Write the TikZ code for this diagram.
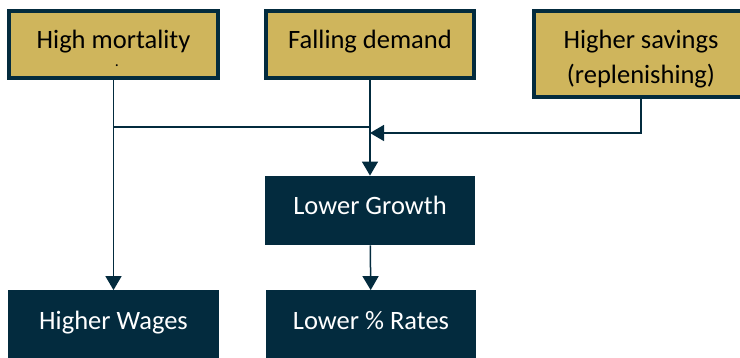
\documentclass[tikz,border=0pt]{standalone}
\usepackage{fontspec}
\setmainfont{Carlito}
\usetikzlibrary{arrows.meta,calc}

\definecolor{gold}{RGB}{207,181,92}
\definecolor{navy}{RGB}{3,43,62}

\begin{document}
\begin{tikzpicture}[x=50pt, y=50pt,
		font=\fontsize{13.25}{17.5}\selectfont,
		cause/.style={draw=navy, line width=2pt, fill=gold, text=black, align=center,
			minimum width=104pt, minimum height=33.5pt, inner sep=0pt},
		effect/.style={fill=navy, text=white, align=center, text height=9pt, text depth=4.5pt,
			minimum width=105pt, minimum height=34.5pt, inner sep=0pt},
		wire/.style={navy, line width=0.75pt},
		link/.style={wire, -{Triangle[width=8pt, length=7pt]}}]
				\clip (0, 0) rectangle (7.40, 3.58);

				\node (Mortality) [cause, text height=9pt, text depth=5pt] at (1.135, 3.135) {High mortality};
				\node (MortalityDot) at (1.17, 2.92) {\fontsize{8}{8}\selectfont .};
				\node (Demand) [cause, text height=9pt, text depth=5pt] at (3.70, 3.135) {Falling demand};
				\node (Savings) [cause, minimum width=107pt, minimum height=43pt] at (6.41, 3.04) {};
				\node (SavingsText) [align=center] at (6.41, 2.99) {Higher savings\\(replenishing)};

				\node (Growth) [effect] at (3.70, 1.475) {Lower Growth};
				\node (Wages) [effect] at (1.135, 0.33) {Higher Wages};
				\node (Rates) [effect] at (3.71, 0.33) {Lower \% Rates};

				\coordinate (Split) at (1.135, 2.31);
				\coordinate (Merge) at (3.70, 2.25);

				\draw [link] (Mortality) -- (Wages);
				\draw [wire] (Split) -- (Split -| Demand);
				\draw [link] (Demand) -- (Growth);
				\draw [link] (Savings.south) |- (Merge);
				\draw [link] (Growth) -- (Rates);
			\end{tikzpicture}
\end{document}
